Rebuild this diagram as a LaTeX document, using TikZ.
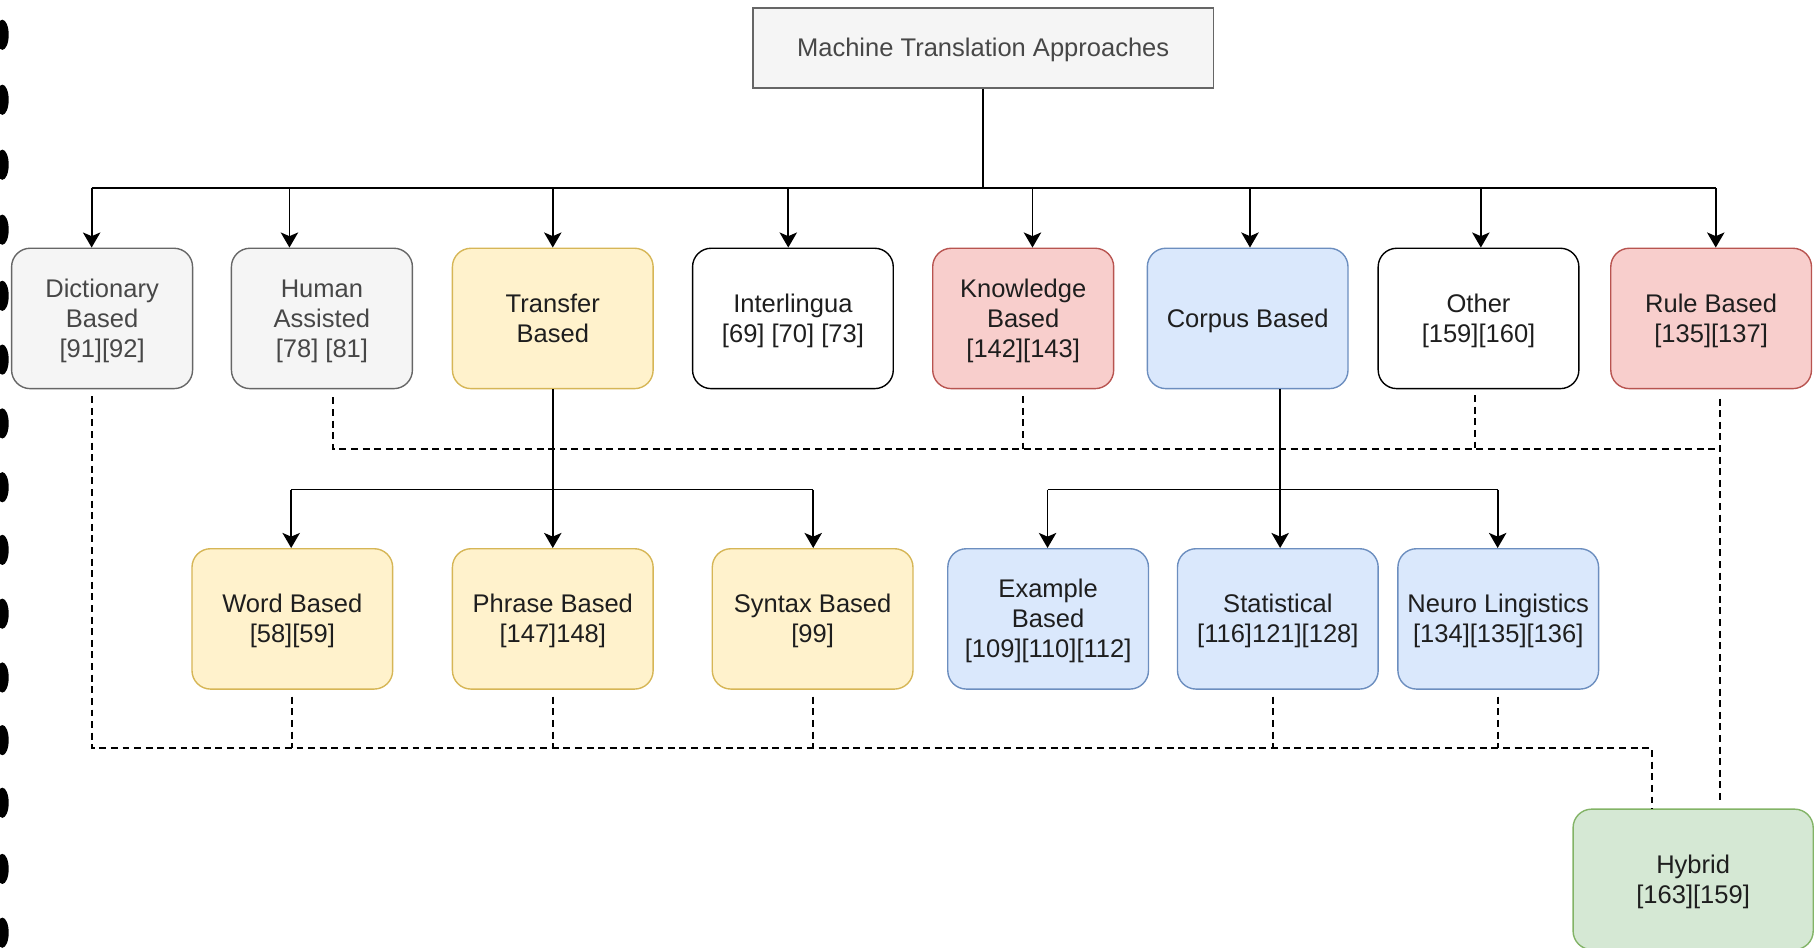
\documentclass[tikz,border=0pt]{standalone}
\usepackage{fontspec}
\setmainfont{Liberation Sans}
\usetikzlibrary{arrows.meta,calc}

\definecolor{grayfill}{HTML}{F5F5F5}
\definecolor{graystroke}{HTML}{666666}
\definecolor{yellowfill}{HTML}{FFF2CC}
\definecolor{yellowstroke}{HTML}{D6B656}
\definecolor{redfill}{HTML}{F8CECC}
\definecolor{redstroke}{HTML}{B85450}
\definecolor{bluefill}{HTML}{DAE8FC}
\definecolor{bluestroke}{HTML}{6C8EBF}
\definecolor{greenfill}{HTML}{D5E8D4}
\definecolor{greenstroke}{HTML}{82B366}
\definecolor{txtgray}{HTML}{474747}
\definecolor{txtdark}{HTML}{1E1E1E}

% node text lowered a little inside its box, keeping the box size
\newcommand{\boxtext}[1]{\raisebox{-1.2pt}[\height][\depth]{\begin{tabular}{@{}c@{}}#1\end{tabular}}}

\begin{document}
\begin{tikzpicture}[x=0.5pt,y=-0.5pt,
  box/.style={draw, rounded corners=8pt, line width=0.6pt, align=center,
    inner sep=2pt, minimum height=60.5pt, text=txtdark,
    font=\fontsize{11}{13}\selectfont},
  wide/.style={minimum width=86.5pt},
  narrow/.style={minimum width=78pt},
  graybox/.style={box, fill=grayfill, draw=graystroke, text=txtgray},
  yellowbox/.style={box, wide, fill=yellowfill, draw=yellowstroke},
  redbox/.style={box, fill=redfill, draw=redstroke},
  bluebox/.style={box, wide, fill=bluefill, draw=bluestroke},
  plainbox/.style={box, wide, fill=white, draw=black},
  greenbox/.style={box, fill=greenfill, draw=greenstroke, minimum width=103.5pt},
  flow/.style={line width=0.8pt, black},
  arr/.style={flow, -{Stealth[length=6.5pt,width=7.5pt,inset=1.6pt]}},
  link/.style={line width=0.8pt, black, dash pattern=on 3pt off 2pt},
  blot/.style={fill=black}
]
\useasboundingbox (0,0) rectangle (1568,817);

% ink blots along the left margin
\foreach \yy in {30,86,142,198,255,310,365,420,474,529,584,638,692,749,804}
  \fill[blot] (2,\yy) ellipse [x radius=5.5, y radius=13];

% root
\node[draw=graystroke, fill=grayfill, line width=0.6pt, text=txtgray,
      minimum width=198.5pt, minimum height=34.5pt,
      font=\fontsize{11}{13}\selectfont] (top) at (847.5,41.5)
      {\boxtext{Machine Translation Approaches}};

% first level
\node[graybox, narrow] (dict)  at (88,274.5)    {\boxtext{Dictionary\\Based\\{[91][92]}}};
\node[graybox, narrow] (hum)   at (277.5,274.5) {\boxtext{Human\\Assisted\\{[78] [81]}}};
\node[yellowbox]       (trans) at (476.5,274.5) {\boxtext{Transfer\\Based}};
\node[plainbox]        (inter) at (683.5,274.5) {\boxtext{Interlingua\\{[69] [70] [73]}}};
\node[redbox, narrow]  (know)  at (882,274.5)   {\boxtext{Knowledge\\Based\\{[142][143]}}};
\node[bluebox]         (corp)  at (1075.5,274.5){\boxtext{Corpus Based}};
\node[plainbox]        (other) at (1274.5,274.5){\boxtext{Other\\{[159][160]}}};
\node[redbox, wide]    (rule)  at (1475,274.5)  {\boxtext{Rule Based\\{[135][137]}}};

% second level
\node[yellowbox] (word)    at (252,533.5)    {\boxtext{Word Based\\{[58][59]}}};
\node[yellowbox] (phrase)  at (476.5,533.5)  {\boxtext{Phrase Based\\{[147]148]}}};
\node[yellowbox] (syntax)  at (700.5,533.5)  {\boxtext{Syntax Based\\{[99]}}};
\node[bluebox]   (example) at (903.5,533.5)  {\boxtext{Example\\Based\\{[109][110][112]}}};
\node[bluebox]   (stat)    at (1101.5,533.5) {\boxtext{Statistical\\{[116]121][128]}}};
\node[bluebox]   (neuro)   at (1291.5,533.5) {\boxtext{Neuro Lingistics\\{[134][135][136]}}};

% hybrid
\node[greenbox] (hybrid) at (1459.5,758) {\boxtext{Hybrid\\{[163][159]}}};

% root fan-out
\coordinate (busL) at (79,162);
\coordinate (busR) at (1479,162);
\draw[flow] (top.south) -- (top.south |- busL);
\draw[flow] (busL) -- (busR);
\draw[arr] (busL) -- (busL |- dict.north);
\draw[arr] ([xshift=-14pt]hum.north |- busL) -- ([xshift=-14pt]hum.north);
\draw[arr] (trans.north |- busL) -- (trans.north);
\draw[arr] ([xshift=-2pt]inter.north |- busL) -- ([xshift=-2pt]inter.north);
\draw[arr] ([xshift=4pt]know.north |- busL) -- ([xshift=4pt]know.north);
\draw[arr] ([xshift=1pt]corp.north |- busL) -- ([xshift=1pt]corp.north);
\draw[arr] ([xshift=1pt]other.north |- busL) -- ([xshift=1pt]other.north);
\draw[arr] (busR) -- (busR |- rule.north);

% transfer branch
\coordinate (tbL) at (251,422);
\coordinate (tbR) at (701,422);
\draw[flow] (trans.south) -- (trans.south |- tbL);
\draw[flow] (tbL) -- (tbR);
\draw[arr] (tbL) -- (tbL |- word.north);
\draw[arr] (trans.south |- tbL) -- (phrase.north);
\draw[arr] (tbR) -- (tbR |- syntax.north);

% corpus branch
\coordinate (cbL) at (903,422);
\coordinate (cbR) at (1291,422);
\coordinate (cdown) at ([xshift=14pt]corp.south);
\draw[flow] (cdown) -- (cdown |- cbL);
\draw[flow] (cbL) -- (cbR);
\draw[arr] (cdown |- cbL) -- (cdown |- stat.north);
\draw[arr] (cbL) -- (cbL |- example.north);
\draw[arr] (cbR) -- (cbR |- neuro.north);

% dashed links into hybrid, lower route
\coordinate (dL) at (79,645);
\coordinate (dR) at (1424,645);
\draw[link] ($(dict.south -| dL)+(0,6)$) -- (dL) -- (dR) -- (dR |- hybrid.north);
\draw[link] ($(word.south)+(0,6)$) -- (word.south |- dL);
\draw[link] ($(phrase.south)+(0,6)$) -- (phrase.south |- dL);
\draw[link] ($(syntax.south)+(0,6)$) -- (syntax.south |- dL);
\draw[link] ($([xshift=-2pt]stat.south)+(0,6)$) -- ([xshift=-2pt]stat.south |- dL);
\draw[link] ($(neuro.south)+(0,6)$) -- (neuro.south |- dL);

% dashed links into hybrid, upper route
\coordinate (uL) at (287,387);
\coordinate (uR) at (1483,387);
\draw[link] ($(hum.south -| uL)+(0,7)$) -- (uL) -- (uR);
\draw[link] ($(know.south)+(0,6)$) -- (know.south |- uL);
\draw[link] ($([xshift=-1.5pt]other.south)+(0,5)$) -- ([xshift=-1.5pt]other.south |- uL);
\draw[link] ($(rule.south -| uR)+(0,8)$) -- (uR) -- ($(uR |- hybrid.north)+(0,-6)$);
\end{tikzpicture}
\end{document}
